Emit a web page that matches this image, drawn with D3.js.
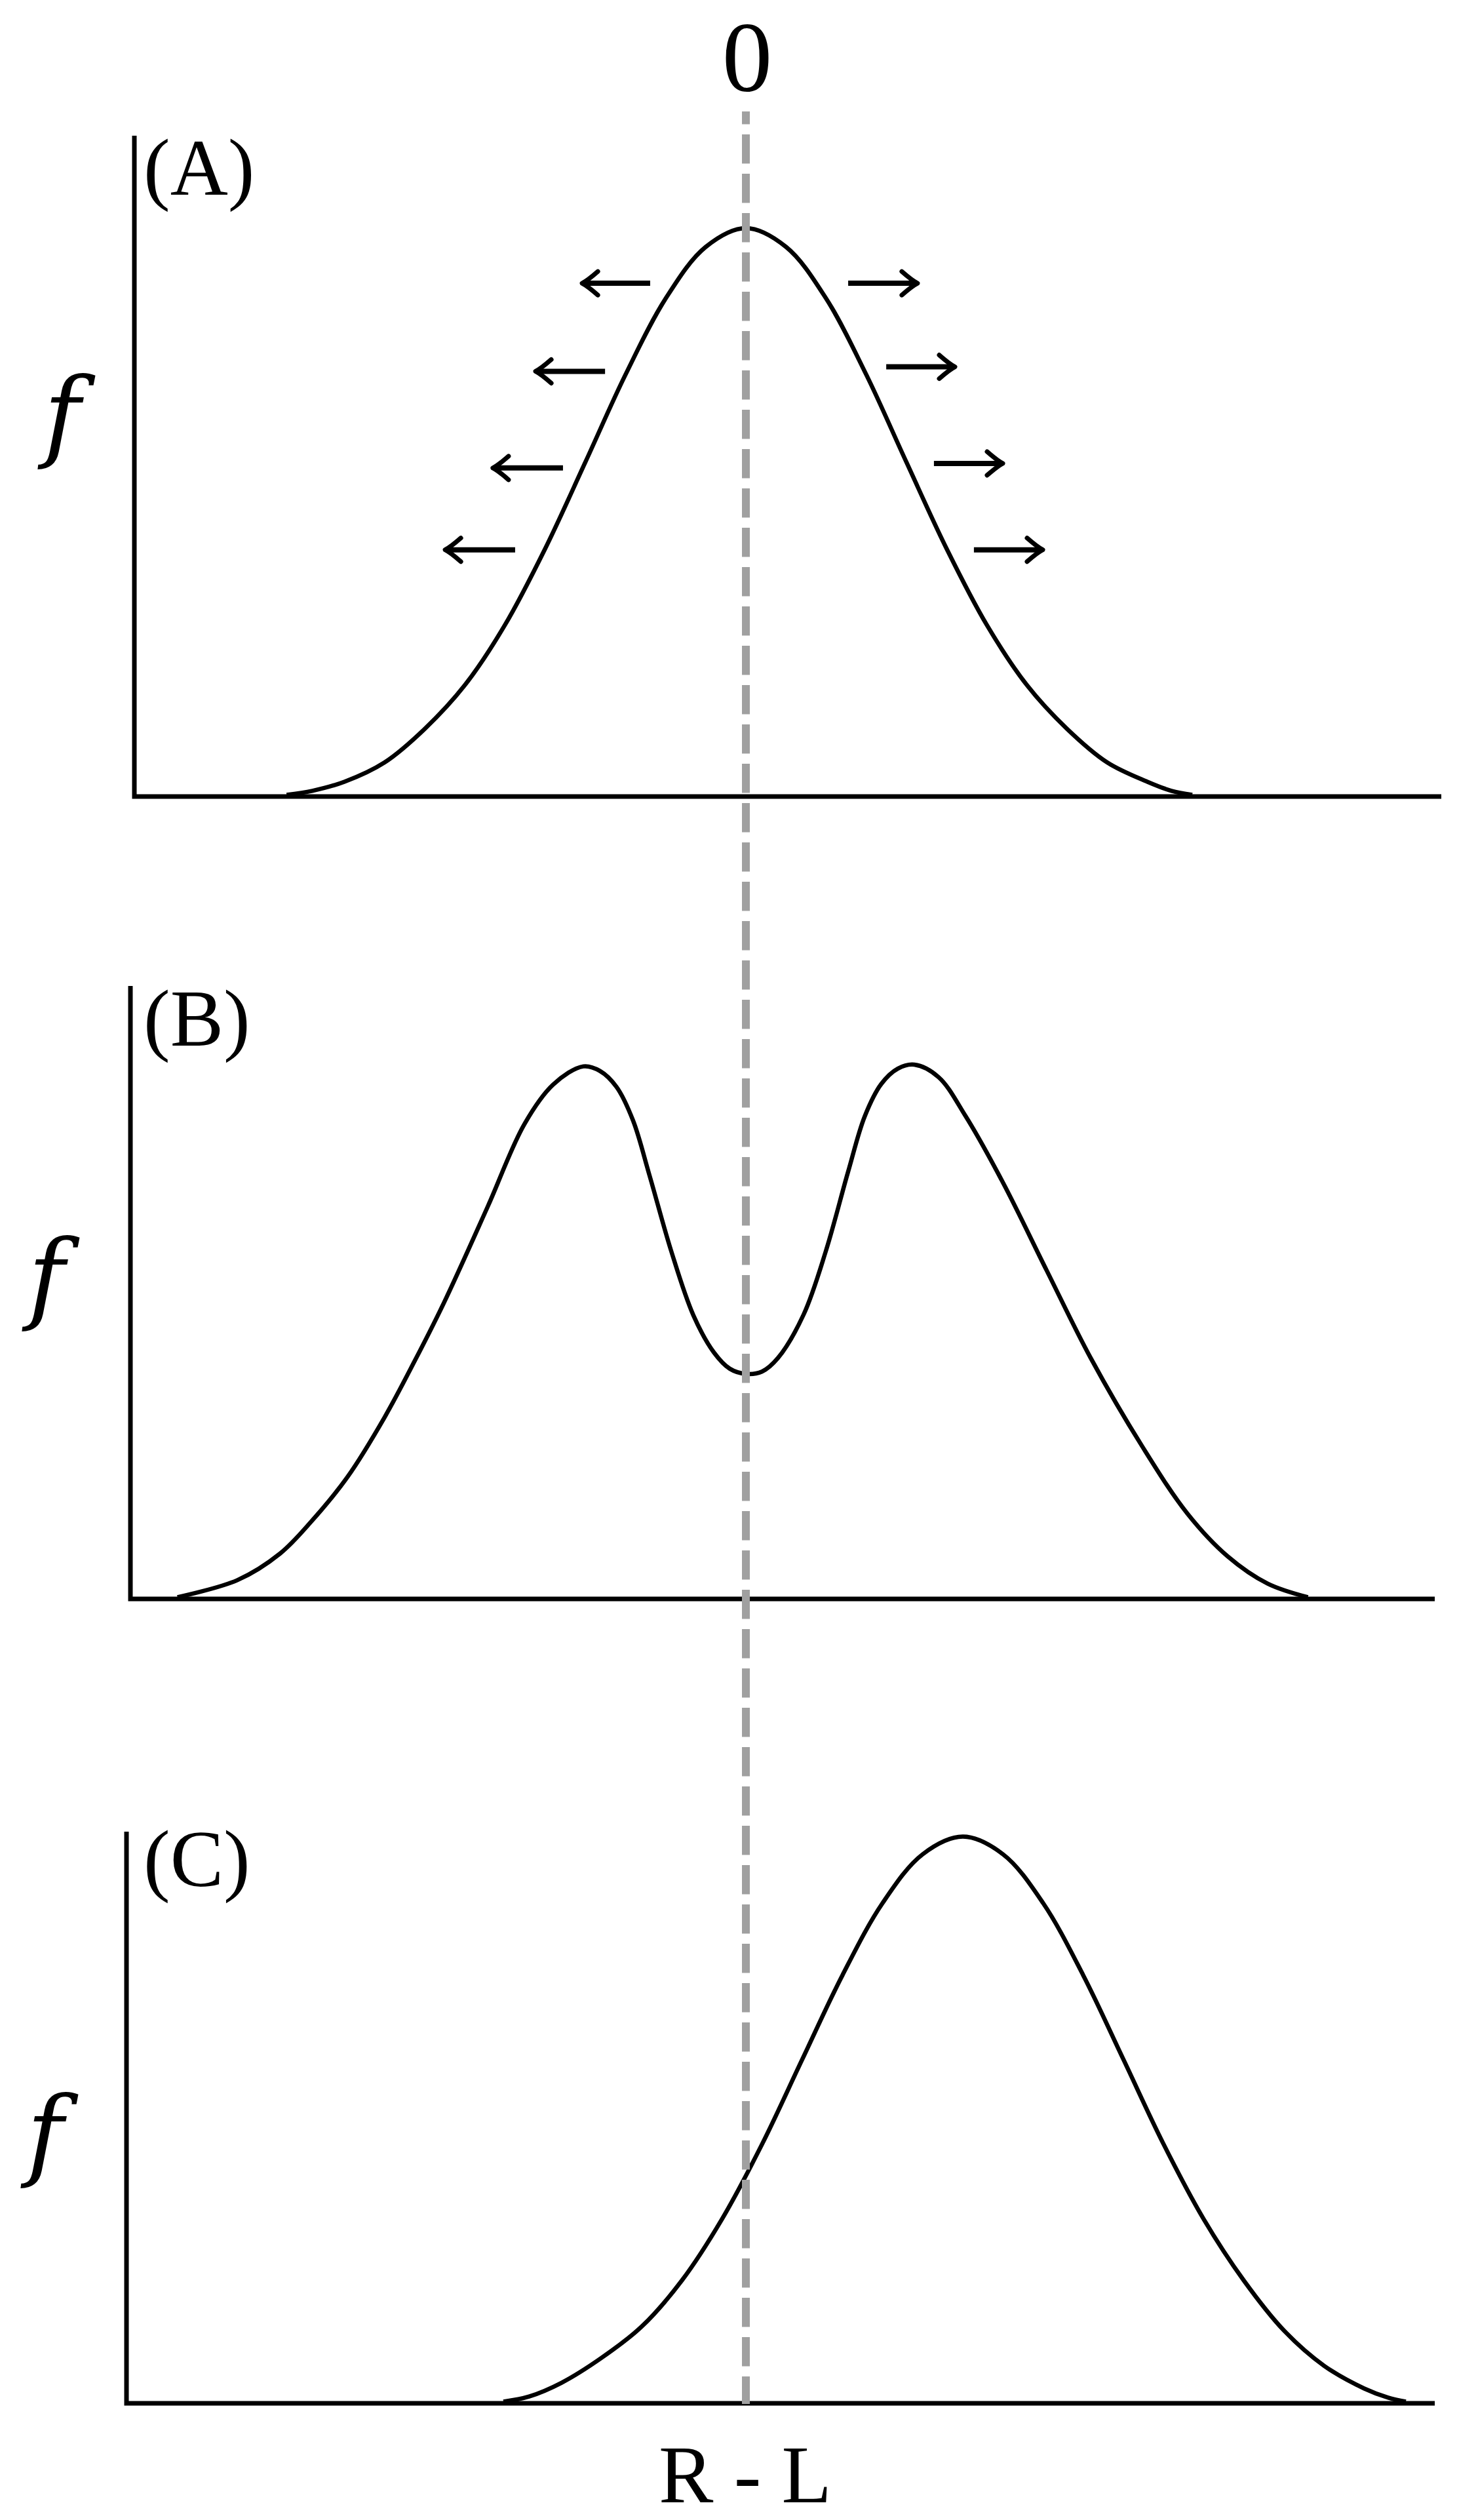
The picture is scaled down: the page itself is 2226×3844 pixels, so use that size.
<!DOCTYPE html>
<html>
<head>
<meta charset="utf-8">
<script src="https://cdn.jsdelivr.net/npm/d3@7"></script>
<style>
  html, body { margin: 0; padding: 0; background: #ffffff; }
  svg { display: block; }
</style>
</head>
<body>
<div id="chart"></div>
<script>
// ---------------- DATA ----------------
// x = R - L (arbitrary units, 0 at the dashed line), f = frequency (peak of A = 1)
const curveA = [
  [-2.86, 0.003], [-2.7, 0.01], [-2.5, 0.026], [-2.25, 0.06], [-2.0, 0.119], [-1.75, 0.196],
  [-1.5, 0.302], [-1.25, 0.436], [-1.0, 0.588], [-0.75, 0.742], [-0.5, 0.876],
  [-0.25, 0.967], [0, 1.0], [0.25, 0.967], [0.5, 0.876], [0.75, 0.742],
  [1.0, 0.588], [1.25, 0.436], [1.5, 0.302], [1.75, 0.196], [2.0, 0.119],
  [2.25, 0.06], [2.5, 0.026], [2.65, 0.01], [2.78, 0.003]
];
const curveB = [
  [-3.54, 0.003], [-3.167, 0.033], [-2.9, 0.08], [-2.71, 0.135], [-2.48, 0.215],
  [-2.249, 0.32], [-2.06, 0.42], [-1.882, 0.52], [-1.608, 0.69], [-1.38, 0.835],
  [-1.2, 0.905], [-1.012, 0.937], [-0.909, 0.929], [-0.806, 0.901], [-0.703, 0.842],
  [-0.6, 0.745], [-0.465, 0.612], [-0.327, 0.499], [-0.2, 0.434], [-0.1, 0.405],
  [0, 0.396], [0.1, 0.4], [0.2, 0.424], [0.359, 0.5], [0.498, 0.612],
  [0.637, 0.752], [0.74, 0.849], [0.843, 0.906], [0.946, 0.933], [1.049, 0.94],
  [1.2, 0.918], [1.367, 0.85], [1.6, 0.733], [1.873, 0.578], [2.147, 0.424],
  [2.469, 0.268], [2.75, 0.15], [3.0, 0.075], [3.249, 0.027], [3.5, 0.003]
];
const curveC = [
  [-1.51, 0.003], [-1.35, 0.012], [-1.149, 0.036], [-0.899, 0.08], [-0.649, 0.135],
  [-0.399, 0.216], [-0.149, 0.324], [0.101, 0.456], [0.351, 0.605], [0.601, 0.753],
  [0.851, 0.88], [1.101, 0.966], [1.351, 0.997], [1.601, 0.966], [1.851, 0.88],
  [2.101, 0.753], [2.351, 0.605], [2.601, 0.456], [2.851, 0.324], [3.101, 0.216],
  [3.351, 0.128], [3.601, 0.066], [3.851, 0.026], [4.0, 0.01], [4.11, 0.003]
];
// arrows in panel A: tail x, head x, height f
const arrowsA = [
  [-0.596, -1.02, 0.903], [-0.877, -1.31, 0.748], [-1.139, -1.576, 0.578], [-1.437, -1.873, 0.434],
  [0.637, 1.069, 0.903], [0.874, 1.302, 0.756], [1.171, 1.6, 0.586], [1.42, 1.849, 0.434]
];
const panelLabels = ["(A)", "(B)", "(C)"];
const yLabel = "f";
const xLabel = "R - L";
const zeroLabel = "0";

// ---------------- LAYOUT ----------------
const W = 2226, H = 3844;
const unitX = 245, unitY = 867, zeroX = 1138;
const panels = [
  { curve: curveA, baseline: 1215, top: 207, left: 205, right: 2199, labelBase: 297, fX: 95, fBase: 684 },
  { curve: curveB, baseline: 2439, top: 1504, left: 199, right: 2189, labelBase: 1595, fX: 71, fBase: 1999 },
  { curve: curveC, baseline: 3666, top: 2794, left: 193, right: 2189, labelBase: 2877, fX: 69, fBase: 3306 }
];
const serif = "'Liberation Serif', 'Times New Roman', Times, serif";
const italicSerif = "'DejaVu Serif', serif";

const svg = d3.select("#chart").append("svg")
  .attr("width", W).attr("height", H)
  .attr("viewBox", `0 0 ${W} ${H}`);
svg.append("rect").attr("width", W).attr("height", H).attr("fill", "#fff");

const x = d3.scaleLinear().domain([0, 1]).range([zeroX, zeroX + unitX]);

panels.forEach((p, i) => {
  const y = d3.scaleLinear().domain([0, 1]).range([p.baseline, p.baseline - unitY]);
  const g = svg.append("g");

  // axes (no ticks)
  g.append("path")
    .attr("d", `M${p.left},${p.top} L${p.left},${p.baseline} L${p.right},${p.baseline}`)
    .attr("fill", "none").attr("stroke", "#000").attr("stroke-width", 7)
    .attr("stroke-linejoin", "miter");

  // distribution curve
  const line = d3.line().x(d => x(d[0])).y(d => y(d[1])).curve(d3.curveCatmullRom.alpha(0.5));
  g.append("path").datum(p.curve)
    .attr("d", line)
    .attr("fill", "none").attr("stroke", "#000").attr("stroke-width", 6.5)
    .attr("stroke-linejoin", "round");

  // panel label
  g.append("text").text(panelLabels[i])
    .attr("x", 219).attr("y", p.labelBase)
    .style("font-family", serif).attr("font-size", 122).attr("fill", "#000");

  // y label
  g.append("text").text(yLabel)
    .attr("x", p.fX).attr("y", p.fBase)
    .attr("text-anchor", "middle")
    .style("font-family", italicSerif).attr("font-style", "italic")
    .attr("font-size", 152).attr("fill", "#000");

  if (i === 0) {
    arrowsA.forEach(a => {
      const x0 = x(a[0]), x1 = x(a[1]), yy = y(a[2]);
      const dir = Math.sign(x1 - x0);
      g.append("line")
        .attr("x1", x0).attr("x2", x1 - dir * 3).attr("y1", yy).attr("y2", yy)
        .attr("stroke", "#000").attr("stroke-width", 8);
      const bx = x1 - dir * 24;
      g.append("path")
        .attr("d", `M${bx},${yy - 18} Q${x1 - dir * 8},${yy - 4} ${x1},${yy} Q${x1 - dir * 8},${yy + 4} ${bx},${yy + 18}`)
        .attr("fill", "none").attr("stroke", "#000").attr("stroke-width", 7)
        .attr("stroke-linecap", "round").attr("stroke-linejoin", "round");
    });
  }
});

// dashed zero line
svg.append("line")
  .attr("x1", x(0)).attr("x2", x(0))
  .attr("y1", 170).attr("y2", panels[2].baseline + 1)
  .attr("stroke", "#a0a0a0").attr("stroke-width", 12)
  .attr("stroke-dasharray", "44.5,15.5").attr("stroke-dashoffset", 25);

// "0" label
svg.append("text").text(zeroLabel)
  .attr("x", x(0) + 2).attr("y", 139).attr("text-anchor", "middle")
  .style("font-family", serif).attr("font-size", 153).attr("fill", "#000");

// x label
svg.append("text").text(xLabel)
  .attr("x", x(0) - 1).attr("y", 3817).attr("text-anchor", "middle")
  .style("font-family", serif).attr("font-size", 125).attr("fill", "#000");
</script>
</body>
</html>
